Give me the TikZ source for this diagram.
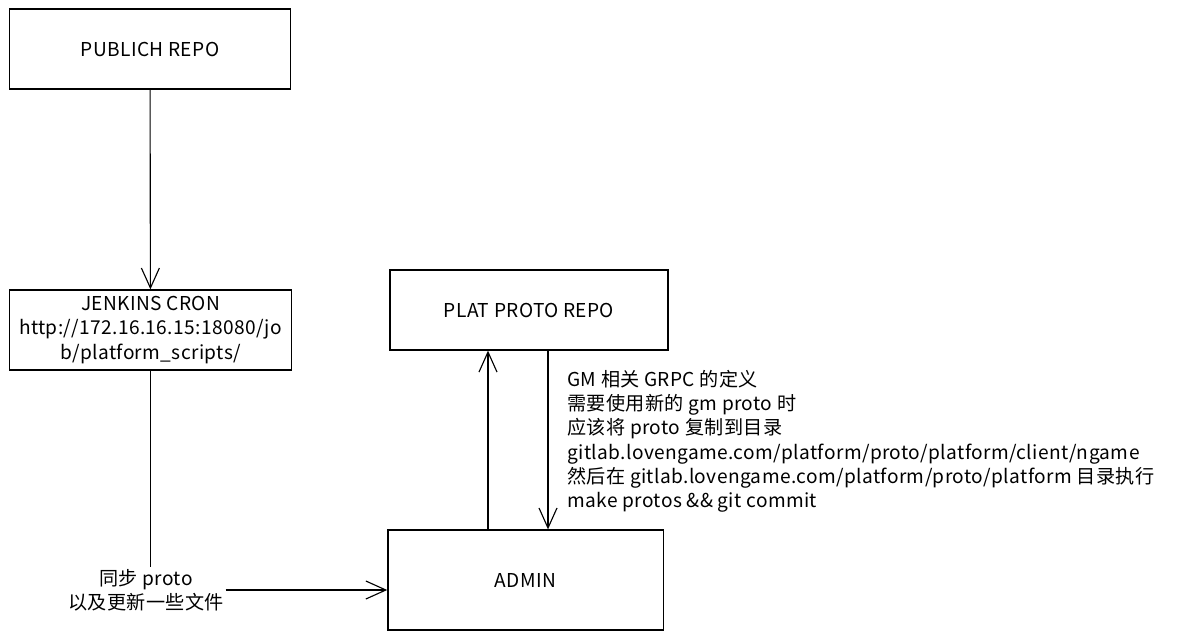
\documentclass[tikz,border=0pt]{standalone}
\usepackage{fontspec}
\setmainfont{Noto Sans CJK SC}[LetterSpace=2]
\usetikzlibrary{arrows.meta}
\tikzset{
  box/.style={draw, line width=0.9pt, minimum width=7.03cm, minimum height=2cm, align=center, inner sep=0pt},
  flow/.style={line width=0.8pt, -{Straight Barb[length=5mm,width=4.5mm]}}
}

\begin{document}
\begin{tikzpicture}[x=0.025cm, y=-0.025cm, font=\fontsize{13.6}{17.2}\selectfont]
    \useasboundingbox (0,0) rectangle (1178,640);

    \node[box] (pub) at (150,49) {PUBLICH REPO};
    \node[box] (jenkins) at (150.5,330) {JENKINS CRON\\http://172.16.16.15:18080/jo\\b/platform\_scripts/};
    \node[box, minimum width=6.95cm] (plat) at (529,310) {PLAT PROTO REPO};
    \node[box, minimum width=6.88cm, minimum height=2.5cm] (admin) at (525.5,580) {ADMIN};

    \node[align=center, inner sep=1pt] (sync) at (146,590) {同步 proto\\以及更新一些文件};
    \node[align=left, anchor=north west, inner sep=0pt] (note) at (567,370) {GM 相关 GRPC 的定义\\需要使用新的 gm proto 时\\应该将 proto 复制到目录\\gitlab.lovengame.com/platform/proto/platform/client/ngame\\然后在 gitlab.lovengame.com/platform/proto/platform 目录执行\\make protos \&\& git commit};

    \path (admin.north) ++(-37.5,0) coordinate (up0);
    \path (plat.south) ++(19,0) coordinate (dn0);

    \draw[flow] (pub) -- (jenkins);
    \draw[line width=0.8pt] (jenkins.south) -- (jenkins.south |- sync.north);
    \draw[flow] (sync.east) -- (sync.east -| admin.west);
    \draw[flow] (up0) -- (up0 |- plat.south);
    \draw[flow] (dn0) -- (dn0 |- admin.north);

\end{tikzpicture}
\end{document}
